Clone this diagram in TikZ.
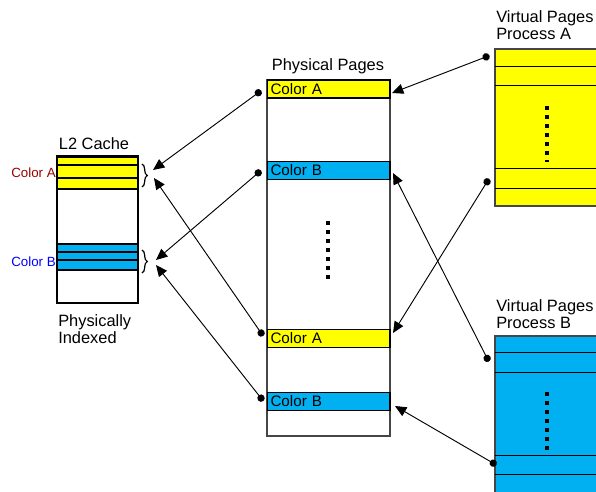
\documentclass[tikz,border=0pt]{standalone}
\usepackage{fontspec}
\setmainfont{Liberation Sans}
\usetikzlibrary{arrows.meta,decorations.pathreplacing}

\definecolor{pageyellow}{RGB}{255,255,0}
\definecolor{pageblue}{RGB}{0,176,240}
\definecolor{labelred}{RGB}{153,0,0}
\definecolor{labelblue}{RGB}{0,0,255}
\definecolor{edgegray}{RGB}{70,70,70}

\tikzset{
  pagerow/.style={draw=black, line width=0.8pt, text width=87pt, align=left,
    inner xsep=2.6pt, inner ysep=0pt, minimum height=13.5pt,
    font=\fontsize{11.4}{13}\selectfont},
  title/.style={inner sep=0pt, align=left, font=\fontsize{12.3}{12.75}\selectfont},
  side/.style={inner sep=0pt, font=\fontsize{10}{11}\selectfont},
  map/.style={line width=0.7pt, {Circle[length=5.5pt]}-{Triangle[length=8.5pt,width=7.5pt]}},
  vdots/.style={line width=3pt, dash pattern=on 3pt off 3.75pt},
  group/.style={decorate, decoration={brace, amplitude=4pt}, line width=0.9pt},
}

\begin{document}
\begin{tikzpicture}[x=0.75pt, y=-0.75pt]
    \clip (0,0) rectangle (596,492);

    % L2 cache
    \node[title] (cachetitle) at (94,144) {L2 Cache};
    \draw[fill=pageyellow, line width=0.9pt] (57,157) rectangle (138,189);
    \draw[line width=0.9pt] (57,165) -- (138,165) (57,178) -- (138,178);
    \draw[fill=pageblue, line width=0.9pt] (57,244) rectangle (138,270);
    \draw[line width=0.9pt] (57,252) -- (138,252) (57,260) -- (138,260);
    \draw[line width=1.4pt] (57,156) rectangle (138,303);
    \node[title, anchor=west] (cachenote) at (58,329) {Physically\\Indexed};
    \node[side, text=labelred, anchor=east] (sideA) at (56,173) {Color A};
    \node[side, text=labelblue, anchor=east] (sideB) at (56,262) {Color B};
    \draw[group] (142,164) -- (142,187);
    \draw[group] (142,250) -- (142,273);

    % Physical pages
    \node[title] (phystitle) at (328,66) {Physical Pages};
    \draw[edgegray, line width=0.9pt] (267,80) rectangle (390,436);
    \node[pagerow, fill=pageyellow] (pA1) at (328.5,89) {Color A};
    \node[pagerow, fill=pageblue] (pB1) at (328.5,170.5) {Color B};
    \node[pagerow, fill=pageyellow] (pA2) at (328.5,338.5) {Color A};
    \node[pagerow, fill=pageblue] (pB2) at (328.5,401.5) {Color B};
    \draw[vdots] (328,221) -- (328,279);

    % Virtual pages, process A
    \node[title, anchor=west] (vAtitle) at (496,25) {Virtual Pages\\Process A};
    \draw[edgegray, fill=pageyellow, line width=1pt] (495,49) rectangle (620,206);
    \draw[line width=0.75pt] (495,67) -- (620,67) (495,86) -- (620,86)
        (495,168) -- (620,168) (495,188) -- (620,188);
    \draw[vdots] (547,106) -- (547,162);

    % Virtual pages, process B
    \node[title, anchor=west] (vBtitle) at (496,314) {Virtual Pages\\Process B};
    \draw[edgegray, fill=pageblue, line width=1pt] (495,336) rectangle (620,520);
    \draw[line width=0.75pt] (495,352) -- (620,352) (495,372) -- (620,372)
        (495,455) -- (620,455) (495,474) -- (620,474);
    \draw[vdots] (547,392) -- (547,450);

    % Ends of the mappings
    \coordinate (dotA1) at (261.2,90.6);
    \coordinate (dotB1) at (261,170.5);
    \coordinate (dotA2) at (263.2,336);
    \coordinate (dotB2) at (263.3,401);
    \coordinate (braceA1) at (153,170);
    \coordinate (braceA2) at (154,178);
    \coordinate (braceB1) at (156,260);
    \coordinate (braceB2) at (156,265);
    \coordinate (vA1) at (489.5,55.6);
    \coordinate (vA2) at (489,178.7);
    \coordinate (vB1) at (488.8,361.6);
    \coordinate (vB2) at (496.4,465);
    \coordinate (inA1) at (392,93);
    \coordinate (inA2) at (393,333);
    \coordinate (inB1) at (393,173);
    \coordinate (inB2) at (395,406);

    % Physical pages to cache
    \draw[map] (dotA1) -- (braceA1);
    \draw[map] (dotB1) -- (braceB1);
    \draw[map] (dotA2) -- (braceA2);
    \draw[map] (dotB2) -- (braceB2);

    % Virtual pages to physical pages
    \draw[map] (vA1) -- (inA1);
    \draw[map] (vA2) -- (inA2);
    \draw[map] (vB1) -- (inB1);
    \draw[map] (vB2) -- (inB2);

\end{tikzpicture}
\end{document}
